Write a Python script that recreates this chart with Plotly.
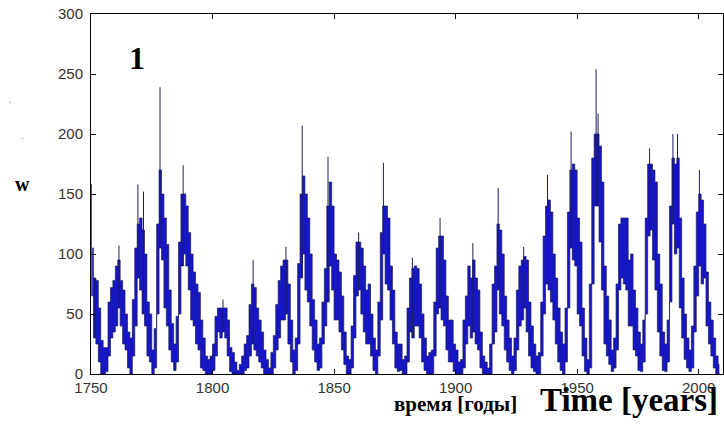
import plotly.graph_objects as go

years = list(range(1750, 2009))

# upper edge of the dense band of monthly values, per year
w_high = [
    105, 80, 78, 55, 28, 22, 22, 60, 72, 78,
    90, 95, 78, 70, 50, 35, 30, 62, 105, 125,
    130, 120, 100, 60, 50, 20, 38, 125, 170, 150,
    130, 108, 70, 42, 25, 48, 110, 150, 150, 140,
    118, 100, 85, 75, 68, 45, 30, 15, 12, 15,
    25, 48, 55, 55, 55, 55, 45, 22, 18, 10,
    3, 8, 15, 25, 32, 58, 75, 72, 55, 45,
    35, 20, 12, 5, 18, 32, 58, 78, 90, 95,
    95, 75, 45, 20, 30, 92, 150, 165, 150, 130,
    100, 62, 45, 25, 30, 60, 88, 140, 160, 140,
    100, 95, 85, 65, 35, 15, 12, 40, 82, 110,
    110, 105, 90, 70, 75, 50, 30, 20, 60, 118,
    140, 140, 130, 90, 70, 35, 25, 25, 12, 15,
    55, 80, 88, 90, 88, 75, 50, 30, 15, 18,
    20, 60, 105, 115, 115, 95, 65, 45, 45, 25,
    20, 10, 12, 45, 65, 90, 80, 95, 80, 70,
    35, 15, 10, 5, 25, 75, 90, 125, 120, 100,
    65, 45, 30, 15, 30, 70, 90, 95, 98, 95,
    60, 40, 25, 15, 18, 60, 115, 140, 145, 135,
    100, 80, 55, 35, 25, 55, 135, 170, 175, 170,
    130, 110, 55, 30, 12, 75, 180, 200, 200, 190,
    160, 90, 65, 45, 20, 30, 75, 125, 130, 130,
    130, 95, 100, 70, 55, 35, 25, 45, 130, 175,
    175, 170, 160, 100, 75, 35, 25, 45, 140, 180,
    175, 180, 130, 80, 50, 30, 20, 40, 90, 135,
    150, 145, 125, 85, 60, 45, 30, 15, 8,
]

# lower edge of the band of monthly values, per year
w_low = [
    65, 30, 25, 10, 0, 0, 2, 15, 30, 35,
    40, 55, 40, 25, 20, 5, 0, 15, 40, 80,
    70, 50, 40, 15, 10, 0, 5, 50, 105, 95,
    55, 40, 20, 10, 3, 10, 50, 90, 100, 90,
    70, 45, 40, 25, 20, 5, 3, 0, 0, 0,
    3, 15, 35, 30, 35, 30, 15, 2, 0, 0,
    0, 0, 0, 3, 5, 15, 25, 20, 15, 10,
    5, 0, 0, 0, 0, 5, 20, 30, 45, 45,
    50, 25, 10, 0, 3, 25, 80, 100, 70, 60,
    40, 20, 10, 3, 5, 25, 40, 60, 90, 70,
    45, 45, 35, 20, 8, 0, 0, 5, 30, 65,
    70, 50, 35, 25, 25, 15, 3, 0, 15, 45,
    100, 75, 70, 45, 25, 5, 2, 3, 0, 0,
    10, 35, 30, 40, 40, 30, 10, 3, 0, 0,
    0, 15, 50, 55, 45, 40, 20, 10, 10, 2,
    0, 0, 0, 5, 25, 40, 30, 35, 25, 20,
    5, 0, 0, 0, 0, 25, 35, 70, 50, 40,
    20, 10, 3, 0, 3, 20, 40, 45, 55, 35,
    15, 5, 2, 0, 0, 15, 50, 75, 70, 60,
    45, 25, 10, 3, 0, 10, 55, 105, 95, 90,
    50, 40, 15, 2, 0, 5, 75, 140, 140, 110,
    70, 25, 15, 8, 2, 5, 20, 70, 80, 75,
    70, 40, 40, 20, 15, 3, 2, 10, 50, 115,
    120, 95, 70, 35, 15, 3, 2, 10, 60, 125,
    100, 105, 55, 30, 12, 5, 2, 5, 35, 65,
    90, 75, 80, 40, 25, 15, 5, 0, 0,
]

# isolated monthly spikes above the band (time, value)
spike_t = [1750.1, 1751.6, 1761.5, 1769.3, 1771.6, 1778.4, 1787.9, 1804.3,
           1816.7, 1830.2, 1836.9, 1847.5, 1860.1, 1870.3, 1882.2, 1893.6,
           1907.1, 1917.5, 1928.0, 1937.8, 1947.5, 1957.8, 1958.6, 1979.8,
           1989.4, 1991.3, 2000.3]
spike_v = [158, 80, 107, 158, 152, 239, 174, 62,
           95, 106, 207, 181, 118, 176, 97, 130,
           109, 155, 106, 166, 202, 254, 217, 188,
           200, 200, 170]

x_ticks = [1750, 1800, 1850, 1900, 1950, 2000]
y_ticks = [0, 50, 100, 150, 200, 250, 300]

xc = [yr + 0.5 for yr in years]
band_blue = "#1616c2"
edge = "#1d1d5e"

fig = go.Figure()
fig.add_trace(go.Scatter(x=xc, y=w_low, mode="lines", line_shape="hvh",
                         line=dict(color=edge, width=0.7),
                         showlegend=False, hoverinfo="skip"))
fig.add_trace(go.Scatter(x=xc, y=w_high, mode="lines", line_shape="hvh",
                         fill="tonexty", fillcolor=band_blue,
                         line=dict(color=edge, width=0.7),
                         showlegend=False, hoverinfo="skip"))

sx, sy = [], []
for t, v in zip(spike_t, spike_v):
    base = w_low[int(t) - years[0]]
    sx += [t, t, None]
    sy += [base, v, None]
fig.add_trace(go.Scatter(x=sx, y=sy, mode="lines",
                         line=dict(color=edge, width=1),
                         showlegend=False, hoverinfo="skip"))

axis_common = dict(showgrid=False, zeroline=False, showline=True,
                   linecolor="black", linewidth=1, mirror="ticks",
                   ticks="inside", ticklen=5, tickcolor="black", tickwidth=1,
                   automargin=False,
                   tickfont=dict(family="Liberation Sans, Arial", size=15,
                                 color="#333333"))

fig.update_xaxes(range=[1750, 2010], tickvals=x_ticks,
                 ticktext=[str(v) for v in x_ticks], **axis_common)
fig.update_yaxes(range=[0, 300], tickvals=y_ticks, ticklabelstandoff=4,
                 ticktext=[str(v) for v in y_ticks], **axis_common)

serif = "Liberation Serif, Times New Roman, serif"
ann = [
    dict(text="<b>1</b>", x=0.0728, y=0.878, font=dict(family=serif, size=32, color="black")),
    dict(text="<b>w</b>", x=-0.109, y=0.528, font=dict(family=serif, size=20, color="black")),
    dict(text="<b>время [годы]</b>", x=0.577, y=-0.083, font=dict(family=serif, size=21, color="black")),
    dict(text="<b>Time [years]</b>", x=0.852, y=-0.072, font=dict(family=serif, size=33, color="black")),
    dict(text=".", x=-0.127, y=0.763, font=dict(family=serif, size=10, color="#888888")),
    dict(text=".", x=-0.109, y=0.663, font=dict(family=serif, size=10, color="#888888")),
]
for a in ann:
    a.update(xref="paper", yref="paper", showarrow=False, xanchor="center", yanchor="middle")

fig.update_layout(width=724, height=446,
                  margin=dict(l=91, r=1, t=14, b=72),
                  paper_bgcolor="white", plot_bgcolor="white",
                  annotations=ann)

# remove the default page margin so the figure sits at the window's corner
fig.write_html("out.html", config={"displayModeBar": False},
               post_script="document.body.style.margin='0';document.body.style.overflow='hidden';")
